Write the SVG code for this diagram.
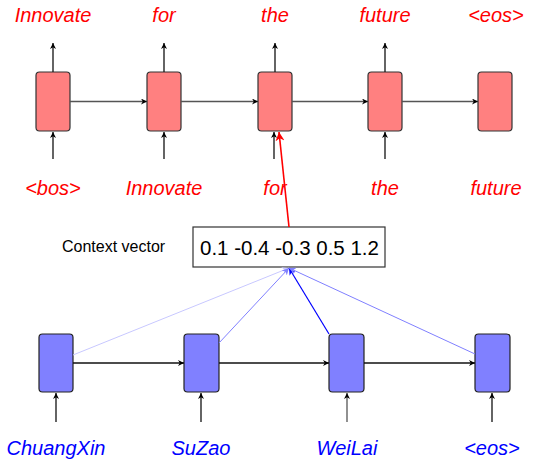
<svg xmlns="http://www.w3.org/2000/svg" width="533" height="461" viewBox="0 0 533 461">
  <defs>
    <marker id="ah" viewBox="0 0 10 10" refX="10" refY="5" markerWidth="6" markerHeight="6" markerUnits="userSpaceOnUse" orient="auto">
      <path d="M0,0 L10,5 L0,10 L3,5 z" fill="#000"/>
    </marker>
    <marker id="ahRed" viewBox="0 0 10 10" refX="10" refY="5" markerWidth="9" markerHeight="9" markerUnits="userSpaceOnUse" orient="auto">
      <path d="M0,0 L10,5 L0,10 L3,5 z" fill="#FF0000"/>
    </marker>
    <marker id="ahB1" viewBox="0 0 10 10" refX="10" refY="5" markerWidth="7" markerHeight="7" markerUnits="userSpaceOnUse" orient="auto">
      <path d="M0,0 L10,5 L0,10 L3,5 z" fill="#C8C8FF"/>
    </marker>
    <marker id="ahB2" viewBox="0 0 10 10" refX="10" refY="5" markerWidth="7" markerHeight="7" markerUnits="userSpaceOnUse" orient="auto">
      <path d="M0,0 L10,5 L0,10 L3,5 z" fill="#8080FF"/>
    </marker>
    <marker id="ahB3" viewBox="0 0 10 10" refX="10" refY="5" markerWidth="7" markerHeight="7" markerUnits="userSpaceOnUse" orient="auto">
      <path d="M0,0 L10,5 L0,10 L3,5 z" fill="#0000FF"/>
    </marker>
    <style>
      .dec { fill: #FF8080; stroke: #333; stroke-width: 1.2; }
      .enc { fill: #8080FF; stroke: #222; stroke-width: 1.2; }
      .red { font-family: "Liberation Sans", Arial, sans-serif; font-style: italic; font-size: 20px; fill: #FF0000; text-anchor: middle; }
      .blue { font-family: "Liberation Sans", Arial, sans-serif; font-style: italic; font-size: 20px; fill: #0000FF; text-anchor: middle; }
      .lbl { font-family: "Liberation Sans", Arial, sans-serif; font-size: 16px; fill: #000; }
      .vec { font-family: "Liberation Sans", Arial, sans-serif; font-size: 20.5px; fill: #000; }
      .v { stroke: #111; stroke-width: 1.3; fill: none; marker-end: url(#ah); }
      .h { stroke: #555; stroke-width: 1.3; fill: none; marker-end: url(#ah); }
      .he { stroke: #111; stroke-width: 1.3; fill: none; marker-end: url(#ah); }
    </style>
  </defs>

  <!-- decoder output words -->
  <g id="dec-out">
    <text class="red" x="53" y="22">Innovate</text>
    <text class="red" x="164" y="22">for</text>
    <text class="red" x="275" y="22">the</text>
    <text class="red" x="385" y="22">future</text>
    <text class="red" x="496" y="22">&lt;eos&gt;</text>
  </g>

  <!-- decoder input words -->
  <g id="dec-in">
    <text class="red" x="53" y="195">&lt;bos&gt;</text>
    <text class="red" x="164" y="195">Innovate</text>
    <text class="red" x="275" y="195">for</text>
    <text class="red" x="385" y="195">the</text>
    <text class="red" x="496" y="195">future</text>
  </g>

  <!-- decoder cells -->
  <g id="dec1"><rect class="dec" x="36" y="72" width="34" height="59" rx="3.5"/></g>
  <g id="dec2"><rect class="dec" x="147" y="72" width="34" height="59" rx="3.5"/></g>
  <g id="dec3"><rect class="dec" x="258" y="72" width="34" height="59" rx="3.5"/></g>
  <g id="dec4"><rect class="dec" x="368" y="72" width="34" height="59" rx="3.5"/></g>
  <g id="dec5"><rect class="dec" x="478" y="72" width="34" height="59" rx="3.5"/></g>

  <!-- context vector -->
  <g id="context">
    <text class="lbl" x="62" y="252">Context vector</text>
    <rect x="193" y="227" width="192" height="40" fill="#fff" stroke="#333" stroke-width="1.2"/>
    <text class="vec" x="200" y="255">0.1 -0.4 -0.3 0.5 1.2</text>
  </g>

  <!-- encoder cells -->
  <g id="enc1"><rect class="enc" x="39" y="334" width="34" height="58" rx="3.5"/></g>
  <g id="enc2"><rect class="enc" x="184" y="334" width="35" height="58" rx="3.5"/></g>
  <g id="enc3"><rect class="enc" x="329" y="334" width="35" height="58" rx="3.5"/></g>
  <g id="enc4"><rect class="enc" x="475" y="334" width="35" height="58" rx="3.5"/></g>

  <!-- encoder input words -->
  <g id="enc-in">
    <text class="blue" x="56" y="455">ChuangXin</text>
    <text class="blue" x="201" y="455">SuZao</text>
    <text class="blue" x="347" y="455">WeiLai</text>
    <text class="blue" x="492" y="455">&lt;eos&gt;</text>
  </g>

  <g id="connectors">
    <!-- decoder: outputs -->
    <line class="v" x1="53" y1="72" x2="53" y2="43"/>
    <line class="v" x1="164" y1="72" x2="164" y2="43"/>
    <line class="v" x1="275" y1="72" x2="275" y2="43"/>
    <line class="v" x1="385" y1="72" x2="385" y2="43"/>
    <!-- decoder: inputs -->
    <line class="v" x1="53" y1="159" x2="53" y2="132"/>
    <line class="v" x1="164" y1="159" x2="164" y2="132"/>
    <line class="v" x1="274" y1="159" x2="274" y2="132"/>
    <line class="v" x1="385" y1="159" x2="385" y2="132"/>
    <!-- decoder: recurrence -->
    <line class="h" x1="70" y1="101.5" x2="147" y2="101.5"/>
    <line class="h" x1="181" y1="101.5" x2="258" y2="101.5"/>
    <line class="h" x1="292" y1="101.5" x2="368" y2="101.5"/>
    <line class="h" x1="402" y1="101.5" x2="478" y2="101.5"/>
    <!-- context to decoder -->
    <line x1="289" y1="227" x2="279" y2="132" stroke="#FF0000" stroke-width="1.6" marker-end="url(#ahRed)"/>
    <!-- encoder: attention weights -->
    <line x1="73" y1="355" x2="289" y2="268" stroke="#C8C8FF" stroke-width="1" marker-end="url(#ahB1)"/>
    <line x1="219" y1="343" x2="289" y2="268" stroke="#8080FF" stroke-width="1" marker-end="url(#ahB2)"/>
    <line x1="329" y1="334" x2="289" y2="268" stroke="#0000FF" stroke-width="1.2" marker-end="url(#ahB3)"/>
    <line x1="475" y1="354" x2="289" y2="268" stroke="#8080FF" stroke-width="1" marker-end="url(#ahB2)"/>
    <!-- encoder: inputs -->
    <line class="he" x1="56" y1="422" x2="56" y2="393"/>
    <line class="he" x1="201" y1="422" x2="201" y2="393"/>
    <line class="h" x1="347" y1="422" x2="347" y2="393"/>
    <line class="he" x1="492" y1="422" x2="492" y2="393"/>
    <!-- encoder: recurrence -->
    <line class="he" x1="73" y1="363" x2="184" y2="363"/>
    <line class="he" x1="219" y1="363" x2="329" y2="363"/>
    <line class="he" x1="364" y1="363" x2="475" y2="363"/>
  </g>
</svg>
